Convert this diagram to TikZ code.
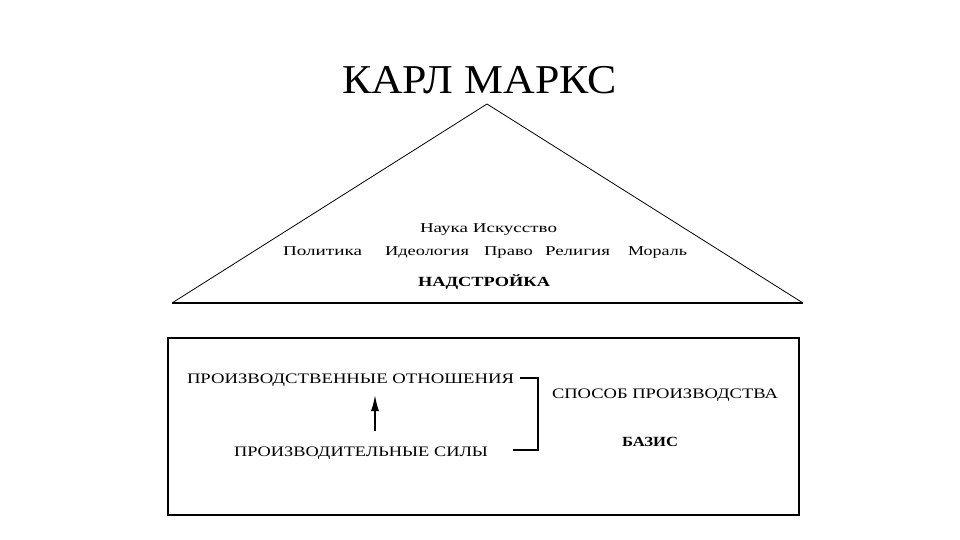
\documentclass[tikz,border=0pt]{standalone}
\usepackage{fontspec}
\setmainfont{Liberation Serif}
\usepackage{graphicx}
\usetikzlibrary{arrows.meta}
\newsavebox\fitbox
\newcommand\fitto[2]{\begingroup\sbox\fitbox{#2}\pgfmathsetmacro\myfac{(#1)/\wd\fitbox}\scalebox{\myfac}[1]{\usebox\fitbox}\endgroup}
\tikzset{
  txt/.style={anchor=base west, inner sep=0pt, outer sep=0pt},
  titlefont/.style={font=\fontsize{41}{44}\selectfont},
  smallfont/.style={font=\fontsize{13.5}{15}\selectfont},
  boldfont/.style={font=\fontsize{14}{16}\selectfont\bfseries},
  capsfont/.style={font=\fontsize{14.5}{16}\selectfont},
  roofside/.style={line width=0.8pt},
  roofbase/.style={line width=2pt},
  frame/.style={line width=1.8pt},
  brace/.style={line width=1.4pt},
  uparrow/.style={line width=1.6pt, -{Latex[length=16pt,width=8pt]}}
}
\begin{document}
\begin{tikzpicture}[x=1pt,y=-1pt]
\useasboundingbox[fill=white] (0,0) rectangle (960,540);
% title
\node[txt, titlefont] (title) at (342,94) {\fitto{275pt}{КАРЛ МАРКС}};
% roof
\coordinate (apex) at (487,104);
\coordinate (bl) at (172,303);
\coordinate (br) at (803,303);
\draw[roofside] (bl) -- (apex) -- (br);
\draw[roofbase] (bl) -- (br);
% superstructure texts
\node[txt, smallfont] (nauka) at (420,232) {\fitto{137pt}{Наука Искусство}};
\node[txt, smallfont] (polit) at (283,255) {\fitto{79pt}{Политика}};
\node[txt, smallfont] (ideol) at (385,255) {\fitto{84pt}{Идеология}};
\node[txt, smallfont] (pravo) at (484,255) {\fitto{49pt}{Право}};
\node[txt, smallfont] (relig) at (545,255) {\fitto{65pt}{Религия}};
\node[txt, smallfont] (moral) at (628,255) {\fitto{59pt}{Мораль}};
\node[txt, boldfont] (nadstr) at (418,286) {\fitto{132pt}{НАДСТРОЙКА}};
% base box
\node[draw, frame, minimum width=631pt, minimum height=177pt, inner sep=0pt, anchor=north west] (box) at (167,337) {};
\node[txt, capsfont] (otn) at (187,383) {\fitto{327pt}{ПРОИЗВОДСТВЕННЫЕ ОТНОШЕНИЯ}};
\node[txt, capsfont] (sily) at (234,456) {\fitto{254pt}{ПРОИЗВОДИТЕЛЬНЫЕ СИЛЫ}};
\node[txt, capsfont] (sposob) at (552,398) {\fitto{226pt}{СПОСОБ ПРОИЗВОДСТВА}};
\node[txt, boldfont] (bazis) at (622,446) {\fitto{56pt}{БАЗИС}};
% arrow
\coordinate (arrbot) at (375,431);
\coordinate (arrtop) at (375,395);
\draw[uparrow] (arrbot) -- (arrtop);
% bracket
\coordinate (b1) at (520,378);
\coordinate (b2) at (538,378);
\coordinate (b3) at (538,450);
\coordinate (b4) at (513,450);
\draw[brace] (b1) -- (b2) -- (b3) -- (b4);
\end{tikzpicture}
\end{document}
